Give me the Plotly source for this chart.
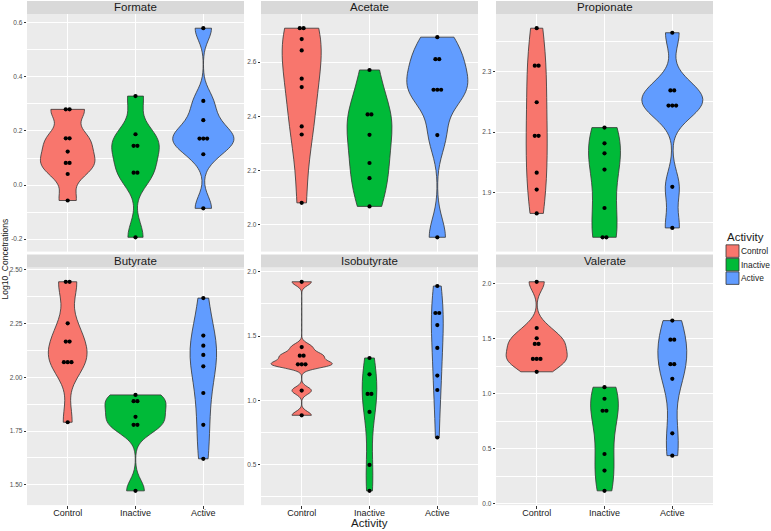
import numpy as np
import plotly.graph_objects as go

categories = ["Control", "Inactive", "Active"]
acids = ["Formate", "Acetate", "Propionate", "Butyrate", "Isobutyrate", "Valerate"]
colors = ["#F8766D", "#00BA38", "#619CFF"]

# ---- data (Log10 concentrations) ----
formate_control = [0.28, 0.28, 0.173, 0.173, 0.124, 0.082, 0.082, 0.041, -0.057]
formate_inactive = [0.329, 0.188, 0.145, 0.145, 0.046, 0.046, -0.193]
formate_active = [0.58, 0.311, 0.24, 0.172, 0.172, 0.172, 0.114, -0.086]

acetate_control = [2.725, 2.725, 2.685, 2.643, 2.539, 2.508, 2.363, 2.333, 2.081]
acetate_inactive = [2.571, 2.407, 2.407, 2.332, 2.228, 2.172, 2.068]
acetate_active = [2.692, 2.611, 2.611, 2.498, 2.498, 2.498, 2.331, 1.954]

propionate_control = [2.444, 2.32, 2.32, 2.199, 2.088, 2.088, 1.966, 1.91, 1.831]
propionate_inactive = [2.115, 2.063, 2.03, 1.976, 1.849, 1.752, 1.752]
propionate_active = [2.429, 2.238, 2.238, 2.188, 2.188, 2.188, 1.919, 1.783]

butyrate_control = [2.444, 2.444, 2.251, 2.166, 2.166, 2.07, 2.07, 2.07, 1.791]
butyrate_inactive = [1.918, 1.889, 1.889, 1.816, 1.779, 1.779, 1.472]
butyrate_active = [2.368, 2.194, 2.147, 2.104, 2.051, 1.927, 1.779, 1.621]

isobutyrate_control = [1.922, 1.414, 1.347, 1.347, 1.28, 1.28, 1.28, 1.075, 0.883]
isobutyrate_inactive = [1.329, 1.202, 1.049, 1.049, 0.909, 0.497, 0.295]
isobutyrate_active = [1.889, 1.679, 1.679, 1.585, 1.407, 1.192, 1.08, 0.71]

valerate_control = [2.018, 1.598, 1.505, 1.453, 1.453, 1.317, 1.317, 1.317, 1.2]
valerate_inactive = [1.06, 0.955, 0.846, 0.846, 0.453, 0.302, 0.118]
valerate_active = [1.665, 1.492, 1.492, 1.269, 1.269, 1.136, 0.641, 0.438]

# y tick labels per panel
formate_ticks = [-0.2, 0.0, 0.2, 0.4, 0.6]
acetate_ticks = [2.0, 2.2, 2.4, 2.6]
propionate_ticks = [1.9, 2.1, 2.3]
butyrate_ticks = [1.50, 1.75, 2.00, 2.25, 2.50]
isobutyrate_ticks = [0.5, 1.0, 1.5, 2.0]
valerate_ticks = [0.0, 0.5, 1.0, 1.5, 2.0]
tick_formats = ["{:.1f}", "{:.1f}", "{:.1f}", "{:.2f}", "{:.1f}", "{:.1f}"]

panel_data = [
    [formate_control, formate_inactive, formate_active],
    [acetate_control, acetate_inactive, acetate_active],
    [propionate_control, propionate_inactive, propionate_active],
    [butyrate_control, butyrate_inactive, butyrate_active],
    [isobutyrate_control, isobutyrate_inactive, isobutyrate_active],
    [valerate_control, valerate_inactive, valerate_active],
]
panel_ticks = [formate_ticks, acetate_ticks, propionate_ticks,
               butyrate_ticks, isobutyrate_ticks, valerate_ticks]

# ---- layout geometry (pixels) ----
W, H = 771, 531
cols = [(27, 244), (261, 478), (496, 713)]
rows_plot = [(13, 252), (268, 507)]
rows_strip = [(0, 13), (255, 268)]
FONT = "Liberation Sans, Arial, sans-serif"


def px_x(v):
    return v / W


def px_y(v):
    return 1 - v / H


def nrd0(x):
    x = np.asarray(x, float)
    n = len(x)
    sd = np.std(x, ddof=1)
    q75, q25 = np.percentile(x, [75, 25])
    lo = min(sd, (q75 - q25) / 1.34)
    if lo <= 0:
        lo = sd if sd > 0 else 1.0
    return 0.9 * lo * n ** -0.2


def kde_max(x, bw):
    x = np.asarray(x, float)
    g = np.linspace(x.min(), x.max(), 512)
    d = np.exp(-0.5 * ((g[:, None] - x[None, :]) / bw) ** 2).sum(1)
    d /= len(x) * bw * np.sqrt(2 * np.pi)
    return d.max()


fig = go.Figure()
layout = dict(
    width=W, height=H, margin=dict(l=0, r=0, t=0, b=0),
    paper_bgcolor="white", plot_bgcolor="#EBEBEB",
    showlegend=False, violinmode="overlay",
    font=dict(family=FONT, color="#1A1A1A"),
)
shapes, annotations = [], []
DOT_STEP = 0.056

for p, (name, groups) in enumerate(zip(acids, panel_data)):
    r, c = divmod(p, 3)
    ax = "" if p == 0 else str(p + 1)
    xref, yref = "x" + ax, "y" + ax

    bws = [nrd0(g) for g in groups]
    dmax = [kde_max(g, b) for g, b in zip(groups, bws)]
    top = max(dmax)

    for i, (g, b, dm) in enumerate(zip(groups, bws, dmax)):
        fig.add_trace(go.Violin(
            x0=i, y=g, xaxis=xref, yaxis=yref,
            bandwidth=b, spanmode="hard", width=0.9 * dm / top,
            scalemode="width", points=False,
            box=dict(visible=False), meanline=dict(visible=False),
            fillcolor=colors[i], line=dict(color="#333333", width=0.8),
            opacity=1, hoverinfo="skip", name=categories[i],
        ))
        # dot-plot style: tied values placed side by side
        vals = np.asarray(g, float)
        xs = np.zeros(len(vals))
        for v in np.unique(vals):
            idx = np.where(vals == v)[0]
            k = len(idx)
            xs[idx] = i + (np.arange(k) - (k - 1) / 2) * DOT_STEP
        fig.add_trace(go.Scatter(
            x=xs, y=vals, xaxis=xref, yaxis=yref, mode="markers",
            marker=dict(color="black", size=4.2), hoverinfo="skip",
        ))

    allv = np.concatenate([np.asarray(g, float) for g in groups])
    R = allv.max() - allv.min()
    lo, hi = allv.min() - R / 60, allv.max() + R / 60
    pad = 0.05 * (hi - lo)
    yr = [lo - pad, hi + pad]

    ticks = panel_ticks[p]
    step = ticks[1] - ticks[0]
    minor = [t + step / 2 for t in [ticks[0] - step] + ticks]
    minor = [m for m in minor if yr[0] <= m <= yr[1]]

    x0, x1 = cols[c]
    y0, y1 = rows_plot[r]
    layout["xaxis" + ax] = dict(
        domain=[px_x(x0), px_x(x1)], anchor=yref, range=[-0.6, 2.6],
        tickmode="array", tickvals=[0, 1, 2], ticktext=categories,
        showticklabels=(r == 1), ticks="outside" if r == 1 else "",
        ticklen=2.7, tickcolor="#333333", tickwidth=0.8,
        ticklabelstandoff=-4,
        tickfont=dict(family=FONT, size=9, color="#1A1A1A"),
        showgrid=True, gridcolor="white", gridwidth=1.1,
        zeroline=False, showline=False, fixedrange=True,
    )
    layout["yaxis" + ax] = dict(
        domain=[px_y(y1), px_y(y0)], anchor=xref, range=yr,
        tickmode="array", tickvals=ticks,
        ticktext=[tick_formats[p].format(t) for t in ticks],
        ticks="outside", ticklen=2.3, tickcolor="#333333", tickwidth=0.8,
        tickfont=dict(family=FONT, size=6.5, color="#4D4D4D"),
        showgrid=True, gridcolor="white", gridwidth=1.1,
        minor=dict(tickmode="array", tickvals=minor, showgrid=True,
                   gridcolor="white", gridwidth=0.55, ticks=""),
        zeroline=False, showline=False, fixedrange=True,
    )
    # strip
    s0, s1 = rows_strip[r]
    shapes.append(dict(type="rect", xref="paper", yref="paper",
                       x0=px_x(x0), x1=px_x(x1), y0=px_y(s1), y1=px_y(s0),
                       fillcolor="#D9D9D9", line=dict(width=0), layer="below"))
    annotations.append(dict(text=name, xref="paper", yref="paper",
                            x=px_x((x0 + x1) / 2), y=px_y((s0 + s1) / 2),
                            showarrow=False, xanchor="center", yanchor="middle",
                            font=dict(family=FONT, size=11.5, color="#1A1A1A")))

# axis titles
annotations.append(dict(text="Activity", xref="paper", yref="paper",
                        x=px_x((cols[1][0] + cols[1][1]) / 2), y=0,
                        showarrow=False, xanchor="center", yanchor="bottom",
                        borderpad=0, yshift=-1,
                        font=dict(family=FONT, size=11.5, color="#1A1A1A")))
annotations.append(dict(text="Log10_Concetrations", xref="paper", yref="paper",
                        x=px_x(5), y=px_y((rows_plot[0][0] + rows_plot[1][1]) / 2),
                        showarrow=False, textangle=-90, xanchor="center",
                        yanchor="middle",
                        font=dict(family=FONT, size=8.5, color="#1A1A1A")))

# legend
annotations.append(dict(text="Activity", xref="paper", yref="paper",
                        x=px_x(725), y=px_y(237), showarrow=False,
                        xanchor="left", yanchor="middle",
                        font=dict(family=FONT, size=11.5, color="#1A1A1A")))
for i, cat in enumerate(categories):
    cy = 251.5 + i * 13.6
    shapes.append(dict(type="rect", xref="paper", yref="paper",
                       x0=px_x(726), x1=px_x(739), y0=px_y(cy + 6.3),
                       y1=px_y(cy - 6.3), fillcolor=colors[i],
                       line=dict(color="#333333", width=0.8)))
    annotations.append(dict(text=cat, xref="paper", yref="paper",
                            x=px_x(740), y=px_y(cy), showarrow=False,
                            xanchor="left", yanchor="middle", borderpad=0,
                            font=dict(family=FONT, size=8.4, color="#1A1A1A")))

layout["shapes"] = shapes
layout["annotations"] = annotations
fig.update_layout(**layout)
fig.write_html(
    "out.html",
    config={"displayModeBar": False},
    post_script="document.body.style.margin='0';document.body.style.overflow='hidden';",
)
